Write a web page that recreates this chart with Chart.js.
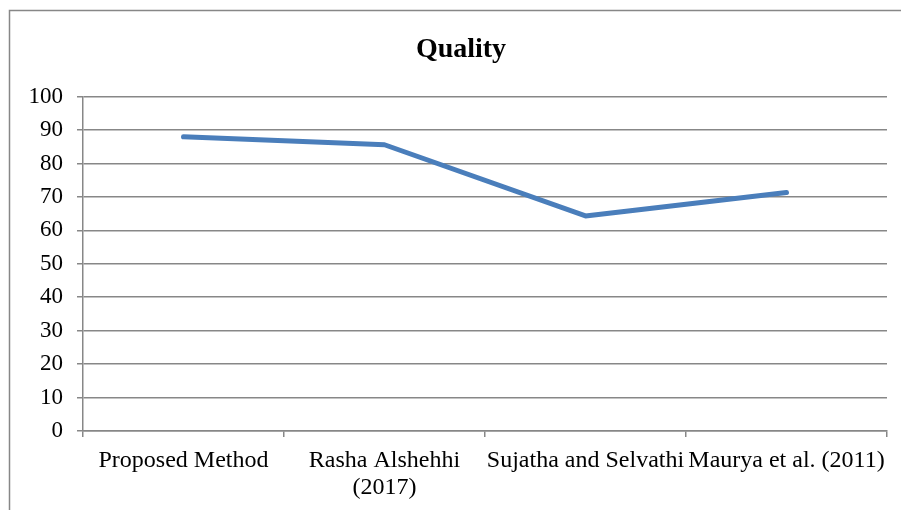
<!DOCTYPE html>
<html>
<head>
<meta charset="utf-8">
<script src="https://cdn.jsdelivr.net/npm/chart.js@4.4.1/dist/chart.umd.min.js"></script>
<style>
  html, body { margin: 0; padding: 0; background: #ffffff; }
  #wrap { width: 901px; height: 510px; position: relative; }
</style>
</head>
<body>
<div id="wrap"><canvas id="chart"></canvas></div>
<script>
// Methods compared on the x axis (second one wraps onto two lines)
const categories = ['Proposed Method', 'Rasha Alshehhi (2017)', 'Sujatha and Selvathi', 'Maurya et al. (2011)'];
const tickLabels = ['Proposed Method', ['Rasha Alshehhi', '(2017)'], 'Sujatha and Selvathi', 'Maurya et al. (2011)'];
// Quality score of each method
const quality = [88, 85.6, 64.3, 71.3];
// Value axis ticks
const yTicks = [0, 10, 20, 30, 40, 50, 60, 70, 80, 90, 100];

const GRID = '#878787';
const SERIF = '"Liberation Serif", "Times New Roman", serif';

// Thin grey frame around the whole figure
const framePlugin = {
  id: 'frame',
  beforeDraw(chart) {
    const ctx = chart.ctx;
    ctx.save();
    ctx.strokeStyle = GRID;
    ctx.lineWidth = 1.5;
    ctx.strokeRect(9.5, 10.5, 1200, 1200);
    ctx.restore();
  }
};

new Chart(document.getElementById('chart'), {
  type: 'line',
  data: {
    labels: categories,
    datasets: [{
      label: 'Quality',
      data: quality,
      borderColor: '#4A7EBB',
      backgroundColor: '#4A7EBB',
      borderWidth: 5,
      borderCapStyle: 'round',
      borderJoinStyle: 'round',
      pointRadius: 0,
      pointHoverRadius: 0,
      tension: 0,
      fill: false
    }]
  },
  options: {
    responsive: true,
    maintainAspectRatio: false,
    animation: false,
    events: [],
    layout: { padding: { left: 21, right: 0, top: 0, bottom: 0 } },
    plugins: {
      legend: { display: false },
      tooltip: { enabled: false },
      title: {
        display: true,
        text: 'Quality',
        color: '#000000',
        font: { family: SERIF, size: 28, weight: 'bold', lineHeight: 1.2 },
        padding: { top: 33, bottom: 30 }
      }
    },
    scales: {
      x: {
        offset: true,
        grid: {
          offset: true,
          drawOnChartArea: false,
          drawTicks: true,
          tickLength: 6,
          color: GRID,
          lineWidth: 1.5
        },
        border: { color: GRID, width: 1.5 },
        ticks: {
          color: '#000000',
          font: { family: SERIF, size: 24, lineHeight: 1.13 },
          padding: 10,
          maxRotation: 0,
          autoSkip: false,
          callback: (v, i) => tickLabels[i]
        },
        afterFit(scale) { scale.height = 79; }
      },
      y: {
        min: 0,
        max: 100,
        afterBuildTicks(scale) { scale.ticks = yTicks.map(v => ({ value: v })); },
        grid: {
          color: GRID,
          lineWidth: 1.5,
          tickLength: 6
        },
        border: { color: GRID, width: 1.5 },
        ticks: {
          color: '#000000',
          font: { family: SERIF, size: 23 },
          padding: 14
        },
        afterFit(scale) { scale.width = 62; }
      },
      // empty right-hand strip that leaves the margin after the plot
      yRight: {
        position: 'right',
        display: true,
        grid: { display: false, drawTicks: false },
        border: { display: false },
        ticks: { display: false },
        afterFit(scale) { scale.width = 14; }
      }
    }
  },
  plugins: [framePlugin]
});
</script>
</body>
</html>
